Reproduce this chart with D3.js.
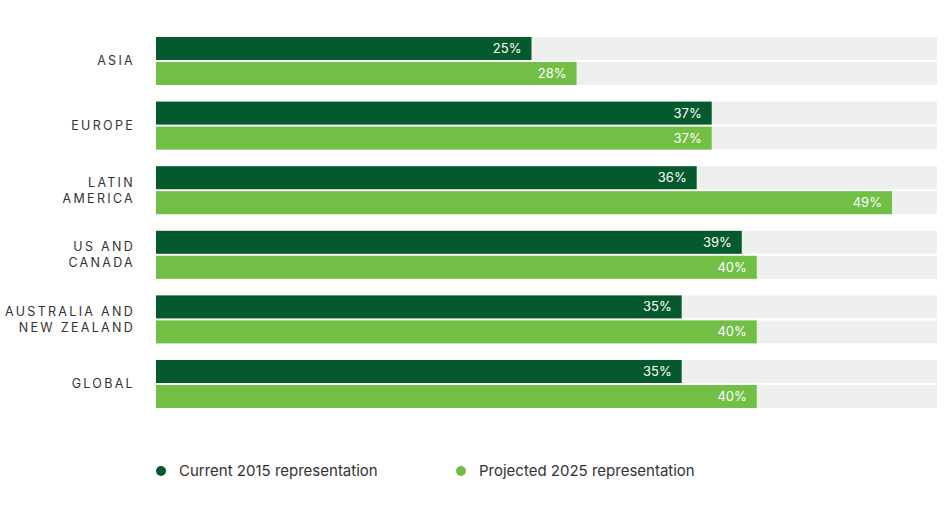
<!DOCTYPE html>
<html>
<head>
<meta charset="utf-8">
<script src="https://cdn.jsdelivr.net/npm/d3@7"></script>
<style>
  body { margin: 0; background: white; font-family: "Inter", "Noto Sans", sans-serif; }
</style>
</head>
<body>
<div id="chart1"></div>
<script>
var svgWidth = 947;
var svgHeight = 531;

var data = [
  { region: ["ASIA"], current: 25, projected: 28 },
  { region: ["EUROPE"], current: 37, projected: 37 },
  { region: ["LATIN", "AMERICA"], current: 36, projected: 49 },
  { region: ["US AND", "CANADA"], current: 39, projected: 40 },
  { region: ["AUSTRALIA AND", "NEW ZEALAND"], current: 35, projected: 40 },
  { region: ["GLOBAL"], current: 35, projected: 40 }
];

var darkGreen = "#045a2c";
var lightGreen = "#71bf44";
var track = "#eef0ee";

var svg = d3.select("#chart1")
  .append("svg")
  .attr("width", svgWidth)
  .attr("height", svgHeight);

// x scale: the grey track ends at about 52%
var xScale = d3.scaleLinear()
  .domain([0, 52])
  .range([156, 937]);

var yScale = d3.scaleBand()
  .domain(data.map((d, i) => i))
  .range([37, 408])
  .paddingInner(0.257)
  .paddingOuter(0);

var barH = (yScale.bandwidth() - 2) / 2;

var groups = svg.selectAll(".row")
  .data(data)
  .enter()
  .append("g")
  .attr("class", "row")
  .attr("transform", (d, i) => `translate(0, ${yScale(i)})`);

// grey tracks
[0, 1].forEach(function (k) {
  groups.append("rect")
    .attr("x", xScale(0))
    .attr("y", k * (barH + 2))
    .attr("width", xScale(52) - xScale(0))
    .attr("height", barH)
    .attr("fill", track);
});

// current 2015
groups.append("rect")
  .attr("x", xScale(0))
  .attr("y", 0)
  .attr("width", d => xScale(d.current) - xScale(0))
  .attr("height", barH)
  .attr("fill", darkGreen);

groups.append("text")
  .attr("x", d => xScale(d.current) - 10)
  .attr("y", barH / 2)
  .attr("dy", "0.35em")
  .attr("text-anchor", "end")
  .attr("fill", "white")
  .style("font-size", "13px")
  .text(d => d.current + "%");

// projected 2025
groups.append("rect")
  .attr("x", xScale(0))
  .attr("y", barH + 2)
  .attr("width", d => xScale(d.projected) - xScale(0))
  .attr("height", barH)
  .attr("fill", lightGreen);

groups.append("text")
  .attr("x", d => xScale(d.projected) - 10)
  .attr("y", barH + 2 + barH / 2)
  .attr("dy", "0.35em")
  .attr("text-anchor", "end")
  .attr("fill", "white")
  .style("font-size", "13px")
  .text(d => d.projected + "%");

// region labels
groups.each(function (d) {
  var g = d3.select(this);
  var n = d.region.length;
  var mid = barH + 1;
  d.region.forEach(function (line, j) {
    g.append("text")
      .attr("x", 135)
      .attr("y", mid + (j - (n - 1) / 2) * 16)
      .attr("dy", "0.35em")
      .attr("text-anchor", "end")
      .attr("fill", "#333")
      .style("font-size", "12.5px")
      .style("letter-spacing", "2.3px")
      .text(line);
  });
});

// legend
var legend = [
  { label: "Current 2015 representation", color: darkGreen, x: 161 },
  { label: "Projected 2025 representation", color: lightGreen, x: 461 }
];
var lg = svg.selectAll(".legend")
  .data(legend)
  .enter()
  .append("g")
  .attr("transform", d => `translate(${d.x}, 471)`);
lg.append("circle").attr("r", 5).attr("fill", d => d.color);
lg.append("text")
  .attr("x", 18)
  .attr("dy", "0.35em")
  .attr("fill", "#333")
  .style("font-size", "15px")
  .text(d => d.label);
</script>
</body>
</html>
